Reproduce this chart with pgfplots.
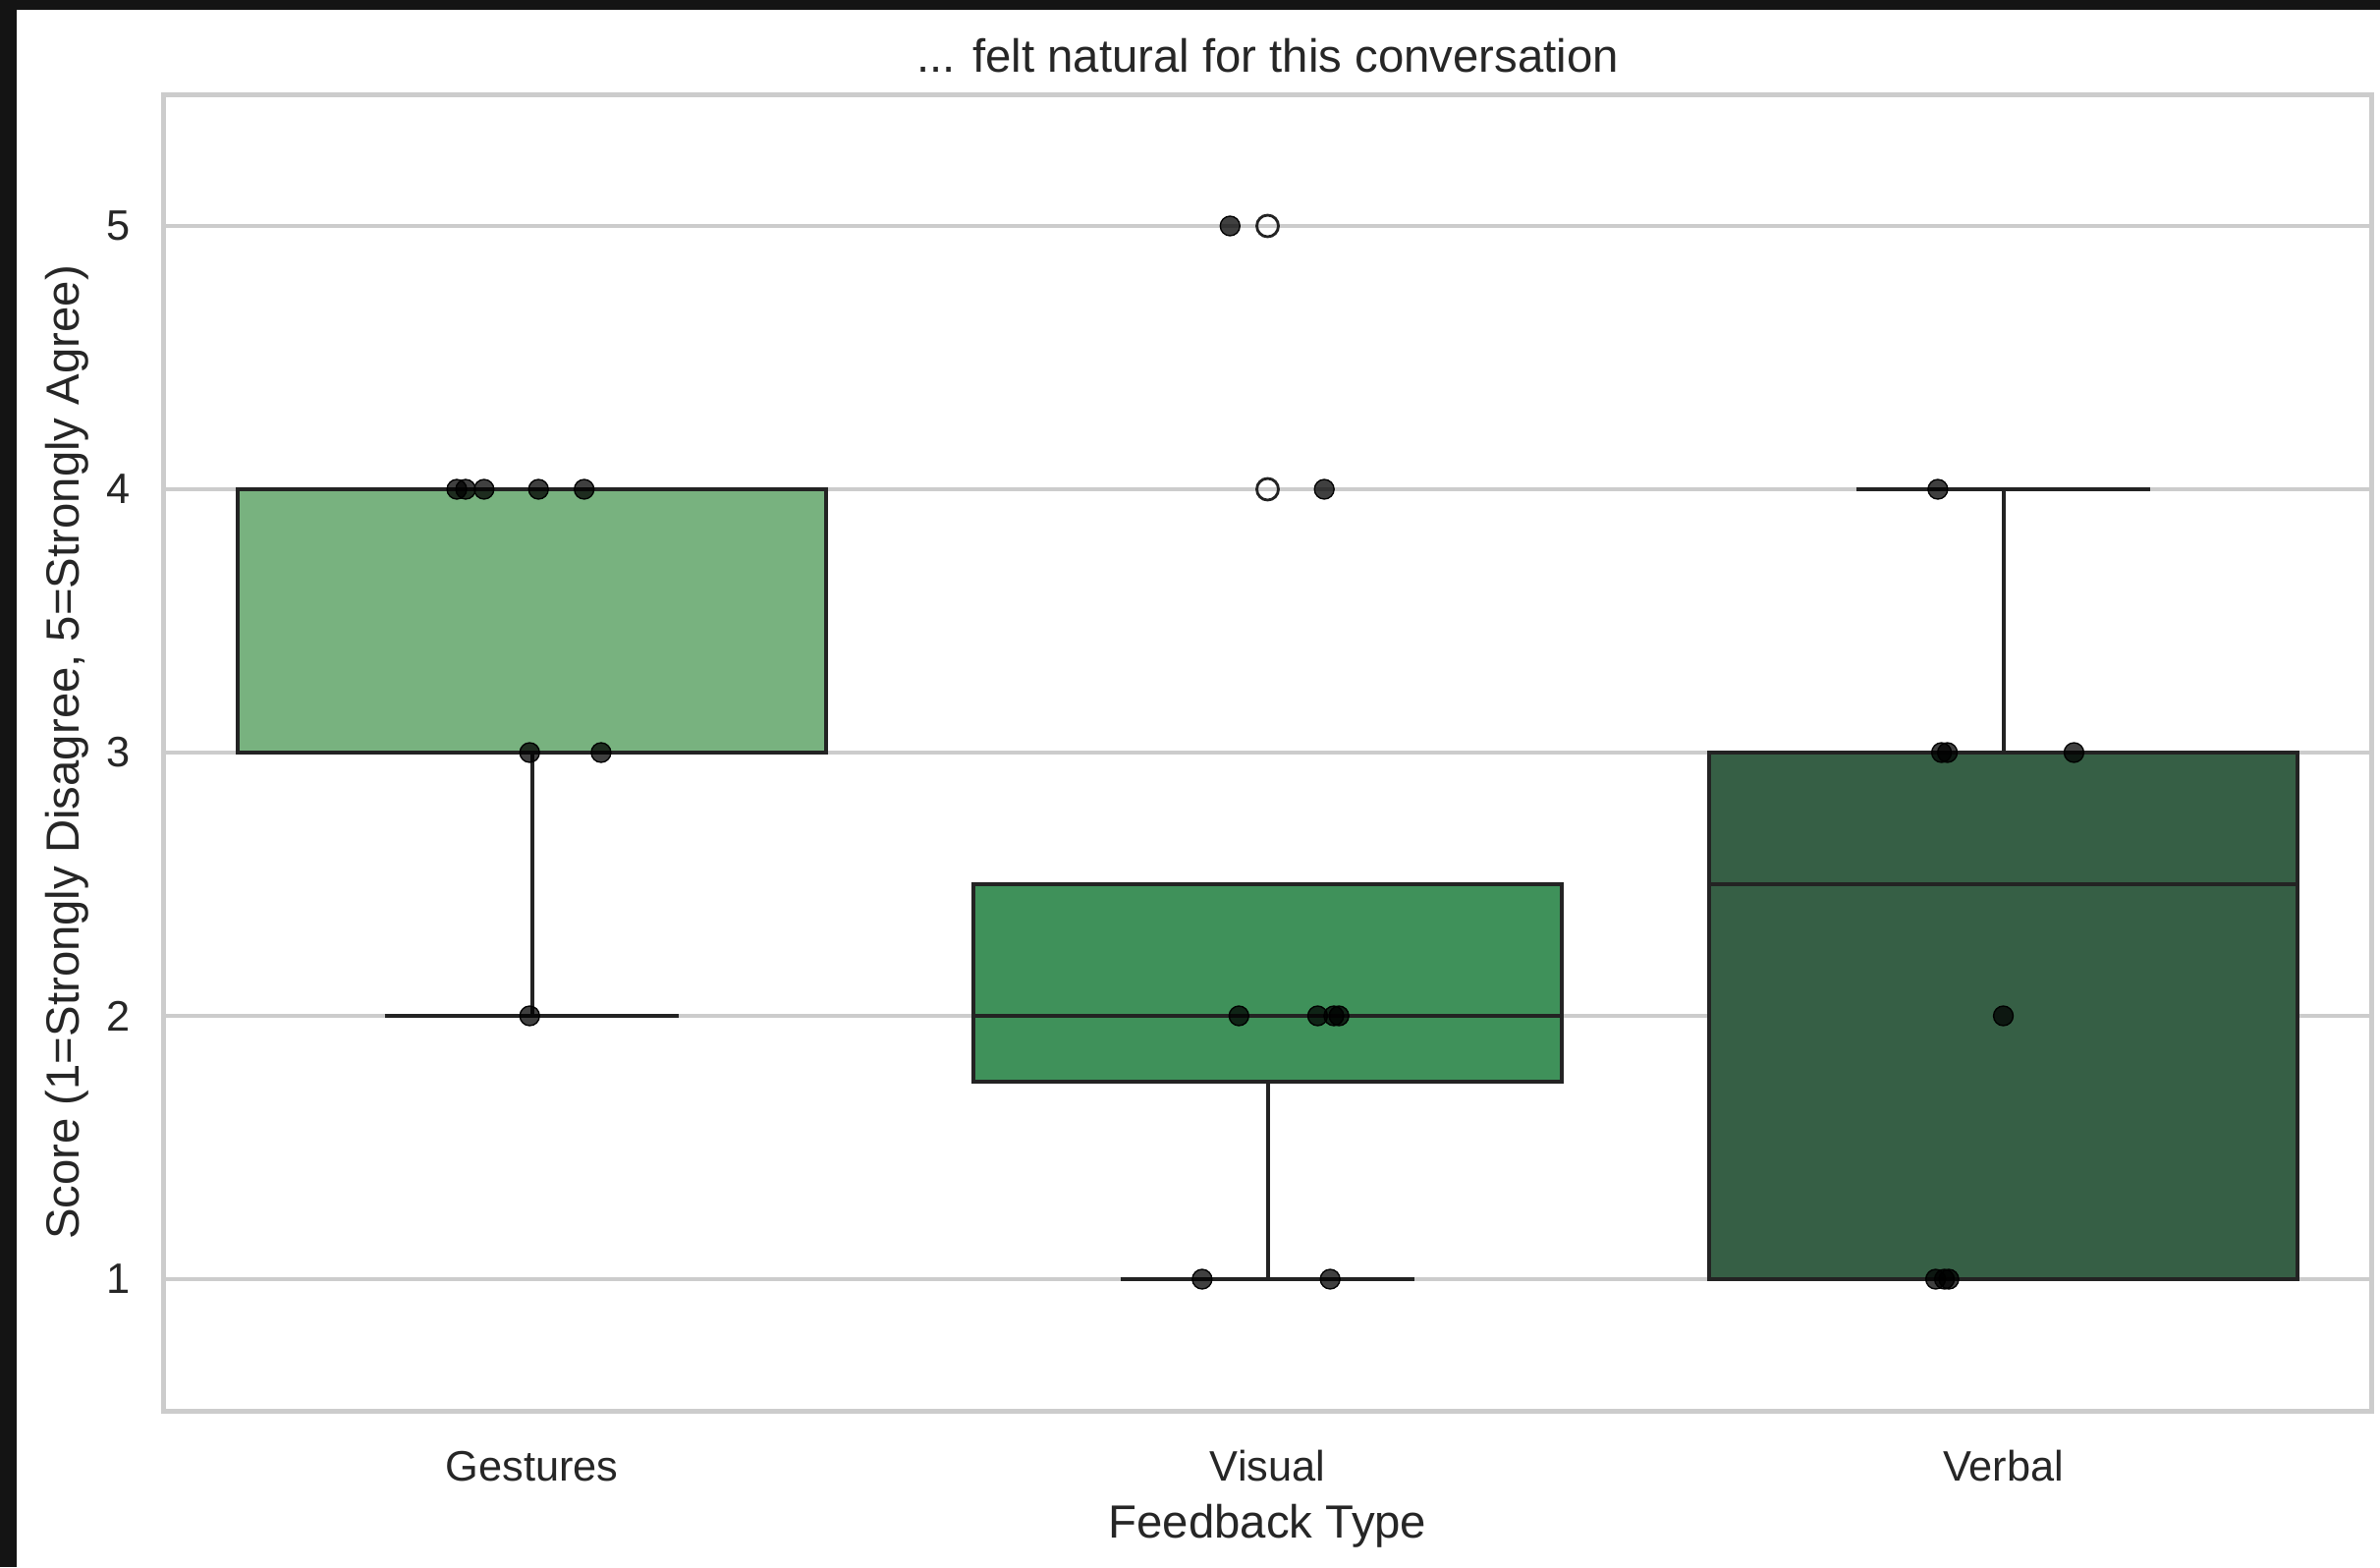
\documentclass[border=0pt]{standalone}
\usepackage{pgfplots}
\pgfplotsset{compat=1.18}
\usepgfplotslibrary{statistics}
\usepackage{fontspec}
\setmainfont{Liberation Sans}
\definecolor{gestc}{HTML}{78B27F}
\definecolor{visc}{HTML}{3F915A}
\definecolor{verc}{HTML}{365F45}
\definecolor{framec}{HTML}{CCCCCC}
\definecolor{txtc}{HTML}{262626}
\definecolor{linec}{HTML}{232323}
\definecolor{bgdark}{HTML}{141414}
\begin{document}
\begin{tikzpicture}
\fill[bgdark] (-50.1pt,-47.7pt) rectangle (676.8pt,430.8pt);
\fill[white] (-45.0pt,-47.7pt) rectangle (676.8pt,427.8pt);
\begin{axis}[
  at={(0,0)}, anchor=south west,
  scale only axis, width=674.1pt, height=402pt,
  xmin=-0.5, xmax=2.5, ymin=0.5, ymax=5.5,
  xtick={0,1,2}, xticklabels={Gestures,Visual,Verbal},
  ytick={1,2,3,4,5},
  major tick length=0pt, minor tick num=0,
  ymajorgrids, grid style={framec, line width=1.2pt},
  axis line style={framec, line width=1.5pt},
  boxplot/draw direction=y,
  /pgf/number format/assume math mode=true,
  tick label style={font=\fontsize{13}{15}\selectfont, text=txtc},
  xticklabel style={anchor=base, yshift=-21.3pt},
  yticklabel style={anchor=center, xshift=-13.95pt},
  label style={font=\fontsize{14.2}{17}\selectfont, text=txtc},
  xlabel={Feedback Type},
  xlabel style={at={(axis description cs:0.5,-0.0963)}, anchor=base},
  ylabel={Score (1=Strongly Disagree, 5=Strongly Agree)},
  ylabel style={at={(axis description cs:-0.0387,0.5)}, anchor=base},
  title={... felt natural for this conversation},
  every axis title shift=0pt,
  title style={at={(axis description cs:0.5,1.0167)}, anchor=base, yshift=0pt, font=\fontsize{14.2}{17}\selectfont, text=txtc},
]
% box plots
\addplot[boxplot prepared={draw position=0, lower whisker=2, lower quartile=3, median=4, upper quartile=4, upper whisker=4, box extend=0.8, whisker extend=0.4}, fill=gestc, draw=linec, line width=1.2pt] coordinates {};
\addplot[boxplot prepared={draw position=1, lower whisker=1, lower quartile=1.75, median=2, upper quartile=2.5, upper whisker=2.5, box extend=0.8, whisker extend=0.4}, fill=visc, draw=linec, line width=1.2pt] coordinates {};
\addplot[boxplot prepared={draw position=2, lower whisker=1, lower quartile=1, median=2.5, upper quartile=3, upper whisker=4, box extend=0.8, whisker extend=0.4}, fill=verc, draw=linec, line width=1.2pt] coordinates {};
% fliers
\addplot[only marks, mark=o, mark size=3.3pt, mark options={draw=linec, line width=0.85pt}] coordinates {(1,5) (1,4)};
% strip points
\addplot[only marks, mark=*, mark size=3pt, mark options={draw=none, fill=black, fill opacity=0.75}] coordinates {
(-0.102,4) (-0.090,4) (-0.065,4) (0.009,4) (0.071,4)
(-0.003,3) (0.094,3) (-0.003,2)
(0.949,5) (1.077,4) (0.961,2) (1.068,2) (1.090,2) (1.097,2) (0.911,1) (1.085,1)
(1.911,4) (1.916,3) (1.924,3) (2.096,3) (2.000,2) (1.908,1) (1.920,1) (1.926,1)
};
\end{axis}
\pgfresetboundingbox
\path[use as bounding box] (-50.1pt,-47.7pt) rectangle (676.8pt,430.8pt);
\end{tikzpicture}
\end{document}
